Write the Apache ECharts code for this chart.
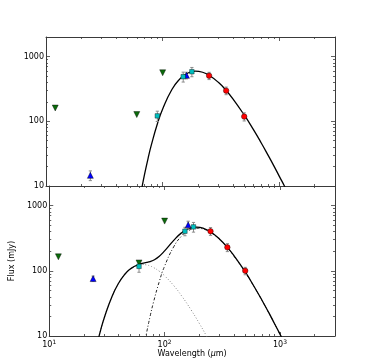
<!DOCTYPE html>
<html>
<head>
<meta charset="utf-8">
<script src="https://cdn.jsdelivr.net/npm/echarts@6/dist/echarts.min.js"></script>
<style>
  html, body { margin: 0; padding: 0; background: #fff; }
  #sed { width: 373px; height: 362px; }
</style>
</head>
<body>
<div id="sed"></div>
<script>
// upper panel photometry (wavelength um, flux mJy, error mJy)
const topLimitWave = [12, 60, 100]
const topLimitFlux = [160, 127, 561]
const topMipsWave = [24, 160]
const topMipsFlux = [14.6, 511]
const topMipsErr = [2.5, 60]
const topAkariWave = [90, 150, 178]
const topAkariFlux = [121, 488, 582]
const topAkariErr = [22, 85, 95]
const topSpireWave = [250, 350, 500]
const topSpireFlux = [505, 297, 118]
const topSpireErr = [65, 40, 17]

// lower panel photometry
const botLimitWave = [12, 60, 100]
const botLimitFlux = [164, 132, 579]
const botMipsWave = [24, 160]
const botMipsFlux = [76, 507]
const botMipsErr = [7, 70]
const botAkariWave = [60, 150, 178]
const botAkariFlux = [117, 405, 472]
const botAkariErr = [22, 60, 80]
const botSpireWave = [250, 350, 500]
const botSpireFlux = [405, 229, 100]
const botSpireErr = [55, 32, 13]

// model curves
const coldWave = [66, 70, 75, 80, 90, 100, 120, 140, 160, 190, 220, 250, 300, 350, 400, 500, 600, 700, 800, 900, 1000, 1100, 1200]
const topModelFlux = [8.9, 15.2, 26.8, 43.1, 90.6, 155, 309, 448, 542, 594, 571, 513, 399, 299, 222, 125, 74.1, 46.2, 30.0, 20.3, 14.1, 10.2, 7.5]
const botColdFlux = [6.7, 11.5, 20.3, 32.7, 68.7, 118, 234, 340, 411, 450, 433, 389, 302, 226, 168, 95, 56.2, 35.0, 22.7, 15.3, 10.7, 7.7, 5.7]
const warmWave = [20, 25, 28, 30, 35, 40, 45, 50, 55, 60, 64, 70, 75, 80, 90, 100, 120, 140, 170, 200, 230, 260, 300]
const botWarmFlux = [0.7, 5.63, 12.6, 19.1, 40.5, 65.0, 87.7, 105.5, 117.3, 123.4, 125, 123, 118.5, 112.5, 98.4, 83.9, 59.3, 41.6, 25.0, 15.6, 10.1, 6.8, 4.25]
const totalWave = [20, 25, 28, 30, 35, 40, 45, 50, 55, 60, 64, 70, 75, 80, 90, 100, 120, 140, 160, 190, 220, 250, 300, 350, 400, 500, 600, 700, 800, 900, 1000, 1100]
const botTotalFlux = [0.7, 5.6, 12.6, 19.1, 40.5, 65, 87.7, 105.5, 117.3, 126, 130, 134.5, 138.8, 145, 167, 202, 293, 382, 440, 468, 445, 397, 306, 229, 170, 96, 56.5, 35.1, 22.8, 15.3, 10.7, 7.7]

// ticks
const xMajor = [10, 100, 1000]
const xMinor = [20, 30, 40, 50, 60, 70, 80, 90, 200, 300, 400, 500, 600, 700, 800, 900, 2000, 3000]
const yMajor = [10, 100, 1000]
const yMinor = [20, 30, 40, 50, 60, 70, 80, 90, 200, 300, 400, 500, 600, 700, 800, 900, 2000]

const X_MIN = 10
const X_MAX = 3000
const Y_MIN = 10
const Y_MAX = 2000
const FONT = 'DejaVu Sans'
const FRAME = '#3a3a3a'

function zip (a, b, c) {
  return a.map((v, i) => c ? [v, b[i], c[i]] : [v, b[i]])
}

function makeAxis (dir, grid, position, major, labels, name) {
  const isX = dir === 'x'
  return {
    type: 'log',
    logBase: 10,
    gridIndex: grid,
    position: position,
    min: isX ? X_MIN : Y_MIN,
    max: isX ? X_MAX : Y_MAX,
    name: name || '',
    nameLocation: 'middle',
    nameGap: isX ? 13 : 26,
    nameTextStyle: { fontFamily: FONT, fontSize: 8, color: '#000', rich: { i: { fontFamily: FONT, fontSize: 8, fontStyle: 'italic' } } },
    axisLine: { show: major, lineStyle: { color: FRAME, width: 1 } },
    axisTick: {
      show: true,
      inside: true,
      length: major ? 4 : 2,
      lineStyle: { color: FRAME, width: 0.8 },
      customValues: major ? (isX ? xMajor : yMajor) : (isX ? xMinor : yMinor)
    },
    axisLabel: {
      show: labels,
      customValues: isX ? xMajor : yMajor,
      margin: isX ? 3 : 2,
      fontFamily: FONT,
      fontSize: 8,
      color: '#000',
      formatter: isX
        ? function (v) { return '{b|10}{s|' + Math.round(Math.log10(v)) + '}' }
        : function (v) { return String(Math.round(v)) },
      rich: {
        b: { fontFamily: FONT, fontSize: 8, lineHeight: 12, color: '#000' },
        s: { fontFamily: FONT, fontSize: 6, verticalAlign: 'top', color: '#000' }
      }
    },
    splitLine: { show: false },
    minorTick: { show: false },
    minorSplitLine: { show: false }
  }
}

function errorBars (xi, yi, rows, color) {
  return {
    type: 'custom',
    xAxisIndex: xi,
    yAxisIndex: yi,
    silent: true,
    z: 3,
    data: rows,
    renderItem: function (params, api) {
      const x = api.value(0)
      const y = api.value(1)
      const e = api.value(2)
      const hi = api.coord([x, y + e])
      const lo = api.coord([x, y - e])
      const c = 1.6
      const st = { stroke: color, lineWidth: 1 }
      return {
        type: 'group',
        children: [
          { type: 'line', shape: { x1: hi[0], y1: hi[1], x2: lo[0], y2: lo[1] }, style: st },
          { type: 'line', shape: { x1: hi[0] - c, y1: hi[1], x2: hi[0] + c, y2: hi[1] }, style: st },
          { type: 'line', shape: { x1: lo[0] - c, y1: lo[1], x2: lo[0] + c, y2: lo[1] }, style: st }
        ]
      }
    }
  }
}

function points (xi, yi, rows, symbol, color, size, rotate) {
  return {
    type: 'scatter',
    xAxisIndex: xi,
    yAxisIndex: yi,
    z: 4,
    symbol: symbol,
    symbolSize: size,
    symbolRotate: rotate || 0,
    itemStyle: { color: color, borderColor: '#000', borderWidth: 0.4, opacity: 1 },
    data: rows
  }
}

function curve (xi, yi, rows, color, type, width) {
  return {
    type: 'line',
    xAxisIndex: xi,
    yAxisIndex: yi,
    z: 2,
    showSymbol: false,
    symbol: 'none',
    smooth: true,
    clip: true,
    silent: true,
    lineStyle: { color: color, type: type, width: width },
    data: rows
  }
}

function panelSeries (xi, yi, set) {
  return [
    errorBars(xi, yi, zip(set.mipsW, set.mipsF, set.mipsE), '#8c8c8c'),
    errorBars(xi, yi, zip(set.akariW, set.akariF, set.akariE), '#8c8c8c'),
    errorBars(xi, yi, zip(set.spireW, set.spireF, set.spireE), '#8c8c8c'),
    points(xi, yi, zip(set.limW, set.limF), 'triangle', '#0b6b0b', 6, 180),
    points(xi, yi, zip(set.mipsW, set.mipsF), 'triangle', '#0000ff', 6),
    points(xi, yi, zip(set.akariW, set.akariF), 'rect', '#00c0c0', 4.5),
    points(xi, yi, zip(set.spireW, set.spireF), 'circle', '#ff0000', 5.5)
  ]
}

const chart = echarts.init(document.getElementById('sed'), null, { renderer: 'canvas' })

const grids = [
  { left: 46, top: 37, width: 289, height: 149 },
  { left: 46, top: 186, width: 289, height: 150 }
]

const xAxes = [
  makeAxis('x', 0, 'bottom', true, false),
  makeAxis('x', 0, 'bottom', false, false),
  makeAxis('x', 0, 'top', true, false),
  makeAxis('x', 0, 'top', false, false),
  makeAxis('x', 1, 'bottom', true, true, 'Wavelength ({i|μ}m)'),
  makeAxis('x', 1, 'bottom', false, false),
  makeAxis('x', 1, 'top', true, false),
  makeAxis('x', 1, 'top', false, false)
]
const yAxes = [
  makeAxis('y', 0, 'left', true, true),
  makeAxis('y', 0, 'left', false, false),
  makeAxis('y', 0, 'right', true, false),
  makeAxis('y', 0, 'right', false, false),
  makeAxis('y', 1, 'left', true, true, 'Flux (mJy)'),
  makeAxis('y', 1, 'left', false, false),
  makeAxis('y', 1, 'right', true, false),
  makeAxis('y', 1, 'right', false, false)
]

const series = [].concat(
  panelSeries(0, 0, {
    limW: topLimitWave, limF: topLimitFlux,
    mipsW: topMipsWave, mipsF: topMipsFlux, mipsE: topMipsErr,
    akariW: topAkariWave, akariF: topAkariFlux, akariE: topAkariErr,
    spireW: topSpireWave, spireF: topSpireFlux, spireE: topSpireErr
  }),
  [curve(0, 0, zip(coldWave, topModelFlux), '#000', 'solid', 1.3)],
  panelSeries(4, 4, {
    limW: botLimitWave, limF: botLimitFlux,
    mipsW: botMipsWave, mipsF: botMipsFlux, mipsE: botMipsErr,
    akariW: botAkariWave, akariF: botAkariFlux, akariE: botAkariErr,
    spireW: botSpireWave, spireF: botSpireFlux, spireE: botSpireErr
  }),
  [
    curve(4, 4, zip(warmWave, botWarmFlux), '#8a8a8a', [1, 2], 1),
    curve(4, 4, zip(coldWave, botColdFlux), '#222', [3, 2, 1, 2], 1),
    curve(4, 4, zip(totalWave, botTotalFlux), '#000', 'solid', 1.3)
  ]
)

chart.setOption({
  animation: false,
  backgroundColor: '#fff',
  grid: grids,
  xAxis: xAxes,
  yAxis: yAxes,
  series: series
})
</script>
</body>
</html>
